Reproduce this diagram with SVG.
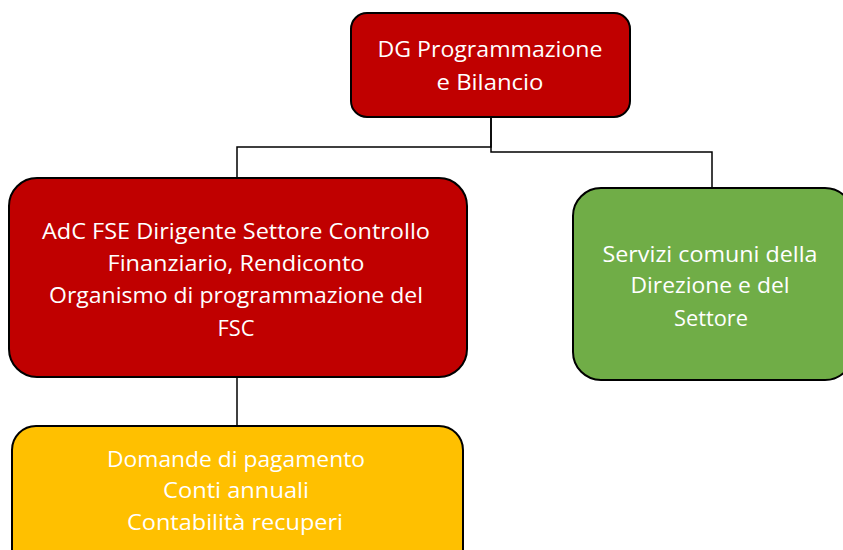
<svg xmlns="http://www.w3.org/2000/svg" width="843" height="550" viewBox="0 0 843 550">
<style>
.box{stroke:#000;stroke-width:2}
.t{font-family:"Open Sans","Liberation Sans",sans-serif;font-size:21.5px;fill:#fff;text-anchor:middle}
.c{fill:none;stroke:#000;stroke-width:1.5}
</style>
<rect width="843" height="550" fill="#fff"/>
<g id="connectors">
<polyline class="c" points="491,117 491,147 237,147 237,178"/>
<polyline class="c" points="491,117 491,152 712,152 712,188"/>
<line class="c" x1="237" y1="377" x2="237" y2="426"/>
</g>
<g id="node-dg">
<rect class="box" x="351" y="13" width="279" height="104" rx="16" fill="#C00000"/>
<text class="t"><tspan x="490" y="57" textLength="225" lengthAdjust="spacingAndGlyphs">DG Programmazione</tspan><tspan x="490" y="90" textLength="107" lengthAdjust="spacingAndGlyphs">e Bilancio</tspan></text>
</g>
<g id="node-adc">
<rect class="box" x="9" y="178" width="458" height="199" rx="28" fill="#C00000"/>
<text class="t"><tspan x="236" y="239" textLength="388" lengthAdjust="spacingAndGlyphs">AdC FSE Dirigente Settore  Controllo</tspan><tspan x="236" y="271" textLength="257" lengthAdjust="spacingAndGlyphs">Finanziario, Rendiconto</tspan><tspan x="236" y="303" textLength="374" lengthAdjust="spacingAndGlyphs">Organismo di programmazione del</tspan><tspan x="236" y="336" textLength="37" lengthAdjust="spacingAndGlyphs">FSC</tspan></text>
</g>
<g id="node-servizi">
<rect class="box" x="573" y="188" width="280" height="192" rx="28" fill="#70AD47"/>
<text class="t"><tspan x="710" y="262" textLength="215" lengthAdjust="spacingAndGlyphs">Servizi comuni della</tspan><tspan x="710" y="293" textLength="159" lengthAdjust="spacingAndGlyphs">Direzione e del</tspan><tspan x="711" y="326" textLength="74" lengthAdjust="spacingAndGlyphs">Settore</tspan></text>
</g>
<g id="node-domande">
<rect class="box" x="12" y="426" width="451" height="150" rx="24" fill="#FFC000"/>
<text class="t"><tspan x="236" y="467" textLength="258" lengthAdjust="spacingAndGlyphs">Domande di pagamento</tspan><tspan x="236" y="498" textLength="146" lengthAdjust="spacingAndGlyphs">Conti annuali</tspan><tspan x="235" y="530" textLength="216" lengthAdjust="spacingAndGlyphs">Contabilità recuperi</tspan></text>
</g>
</svg>
